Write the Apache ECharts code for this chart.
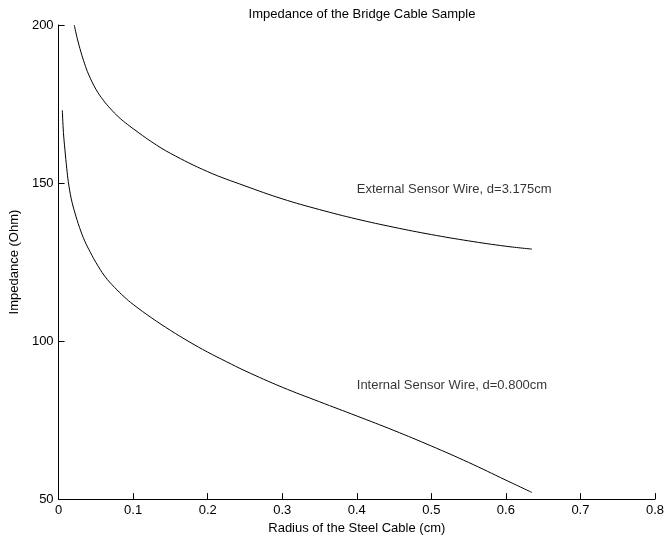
<!DOCTYPE html>
<html>
<head>
<meta charset="utf-8">
<script src="https://cdn.jsdelivr.net/npm/echarts@6/dist/echarts.min.js"></script>
<style>
  html, body { margin: 0; padding: 0; background: #fff; }
  #chart { width: 667px; height: 540px; }
</style>
</head>
<body>
<div id="chart"></div>
<script>
// Cable radius (cm) and impedance (Ohm) for each sensor wire
const radiusExternal = [0.021, 0.025, 0.03, 0.035, 0.04, 0.05, 0.06, 0.07, 0.08, 0.09, 0.1, 0.125, 0.15, 0.2, 0.25, 0.3, 0.35, 0.4, 0.45, 0.5, 0.55, 0.6, 0.635];
const impedanceExternal = [200, 195.8, 191.4, 187.7, 184.5, 179.7, 176.2, 173.4, 171.0, 169.0, 167.2, 163.0, 159.4, 153.6, 149.1, 145.0, 141.6, 138.6, 136.0, 133.7, 131.7, 130.0, 129.1];

const radiusInternal = [0.005, 0.0065, 0.0085, 0.011, 0.013, 0.017, 0.022, 0.028, 0.035, 0.043, 0.05, 0.062, 0.075, 0.088, 0.1, 0.125, 0.15, 0.175, 0.2, 0.225, 0.25, 0.3, 0.35, 0.4, 0.45, 0.5, 0.55, 0.6, 0.635];
const impedanceInternal = [173, 166, 160.5, 154.5, 150.5, 145, 140.5, 136, 131.7, 127.9, 124.9, 120.5, 117, 114.0, 111.6, 107.3, 103.4, 99.8, 96.5, 93.5, 90.6, 85.4, 80.8, 76.3, 71.7, 66.8, 61.6, 56, 52.1];

const xTicks = [0, 0.1, 0.2, 0.3, 0.4, 0.5, 0.6, 0.7, 0.8];
const yTicks = [50, 100, 150, 200];

const curveLabels = [
  { text: 'External Sensor Wire, d=3.175cm', at: [0.4, 148] },
  { text: 'Internal Sensor Wire, d=0.800cm', at: [0.4, 86] }
];

const pairs = (xs, ys) => xs.map((x, i) => [x, ys[i]]);
const FONT = '"Liberation Sans", Arial, Helvetica, sans-serif';
const FS = 13;

const chart = echarts.init(document.getElementById('chart'), null, { renderer: 'canvas' });

const curve = data => ({
  type: 'line', data,
  smooth: 0.4, showSymbol: false, symbol: 'none',
  lineStyle: { color: '#000', width: 1 }
});

chart.setOption({
  animation: false,
  backgroundColor: '#ffffff',
  title: {
    text: 'Impedance of the Bridge Cable Sample',
    left: 357, top: 3, textAlign: 'center',
    textStyle: { fontFamily: FONT, fontSize: FS, fontWeight: 'normal', color: '#000' }
  },
  grid: { left: 55.3, right: 7.7, top: 25, bottom: 40 },
  xAxis: {
    type: 'value', min: xTicks[0], max: xTicks[xTicks.length - 1], interval: 0.1,
    name: 'Radius of the Steel Cable (cm)', nameLocation: 'middle', nameGap: 20,
    nameTextStyle: { fontFamily: FONT, fontSize: FS, color: '#000' },
    axisLine: { lineStyle: { color: '#000', width: 1 } },
    axisTick: { inside: true, length: 6, lineStyle: { color: '#000' } },
    axisLabel: { fontFamily: FONT, fontSize: FS, color: '#000', margin: 5,
      formatter: v => String(Math.round(v * 10) / 10) },
    splitLine: { show: false }
  },
  yAxis: {
    type: 'value', min: yTicks[0], max: yTicks[yTicks.length - 1], interval: 50,
    name: 'Impedance (Ohm)', nameLocation: 'middle', nameGap: 31,
    nameTextStyle: { fontFamily: FONT, fontSize: FS, color: '#000' },
    axisLine: { show: true, lineStyle: { color: '#000', width: 1 } },
    axisTick: { show: true, inside: true, length: 6, lineStyle: { color: '#000' } },
    axisLabel: { fontFamily: FONT, fontSize: FS, color: '#000', margin: 5 },
    splitLine: { show: false }
  },
  series: [
    curve(pairs(radiusExternal, impedanceExternal)),
    curve(pairs(radiusInternal, impedanceInternal)),
    {
      type: 'scatter', symbolSize: 0,
      data: curveLabels.map(c => ({ value: c.at, name: c.text })),
      label: {
        show: true, position: 'right', distance: 0,
        formatter: p => p.name,
        fontFamily: FONT, fontSize: FS, color: '#000'
      },
      silent: true
    }
  ]
});
</script>
</body>
</html>
